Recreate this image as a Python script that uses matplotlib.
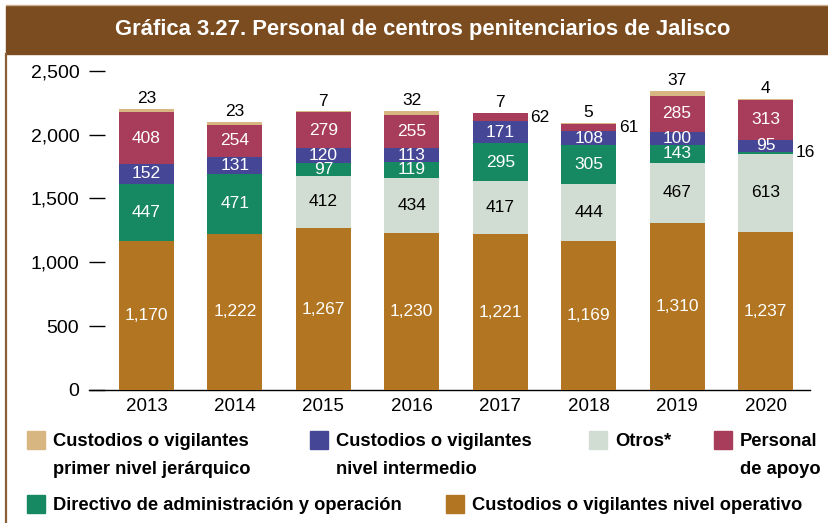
import matplotlib
matplotlib.use('Agg')
import matplotlib.pyplot as plt
import numpy as np
from matplotlib.patches import Rectangle

years = ['2013', '2014', '2015', '2016', '2017', '2018', '2019', '2020']
operativo = [1170, 1222, 1267, 1230, 1221, 1169, 1310, 1237]
otros = [0, 0, 412, 434, 417, 444, 467, 613]
directivo = [447, 471, 97, 119, 295, 305, 143, 16]
intermedio = [152, 131, 120, 113, 171, 108, 100, 95]
apoyo = [408, 254, 279, 255, 62, 61, 285, 313]
primer = [23, 23, 7, 32, 7, 5, 37, 4]

c_oper = '#B27521'
c_otros = '#D1DCD2'
c_dir = '#168862'
c_int = '#464697'
c_apo = '#A83C5B'
c_pri = '#D8B681'
c_brown = '#7B4C1F'

plt.rcParams['font.family'] = ['Liberation Sans', 'DejaVu Sans']

W, H = 829, 523
fig = plt.figure(figsize=(W / 100, H / 100), dpi=100)


def fx(px):
    return px / W


def fy(py):
    return 1 - py / H


# title bar
fig.patches.append(Rectangle((fx(6), fy(54)), fx(829) - fx(6), fy(6) - fy(54),
                             transform=fig.transFigure, color=c_brown, zorder=0))
fig.lines.append(plt.Line2D([fx(6), fx(829)], [fy(5), fy(5)], transform=fig.transFigure,
                            color='#CDB08E', lw=1))
fig.lines.append(plt.Line2D([fx(6.5), fx(6.5)], [fy(54), fy(523)], transform=fig.transFigure,
                            color='#8A5F33', lw=1.6))
fig.text(fx(423), fy(30), 'Gráfica 3.27. Personal de centros penitenciarios de Jalisco',
         color='white', fontsize=15.8, fontweight='bold', ha='center', va='center')

ax = fig.add_axes([fx(89), fy(390), fx(810) - fx(89), fy(58) - fy(390)])
x = np.arange(len(years))
width = 0.622
lab_fs = 12.5

series = [
    (operativo, c_oper, 'white'),
    (otros, c_otros, 'black'),
    (directivo, c_dir, 'white'),
    (intermedio, c_int, 'white'),
    (apoyo, c_apo, 'white'),
    (primer, c_pri, 'black'),
]

bottom = np.zeros(len(years))
for vals, col, tcol in series:
    vals = np.array(vals, dtype=float)
    ax.bar(x, vals, width, bottom=bottom, color=col, linewidth=0, zorder=2)
    for i, v in enumerate(vals):
        if v == 0:
            continue
        label = f'{int(v):,}'
        if col == c_pri:
            # primer nivel: value above the bar
            ax.annotate(label, (x[i], bottom[i] + v), xytext=(0, 2), textcoords='offset points',
                        ha='center', va='bottom', fontsize=lab_fs, color='black')
        elif v < 80:
            # thin segments: value to the right of the bar
            ax.annotate(label, (x[i] + width / 2, bottom[i] + v / 2), xytext=(2, 0),
                        textcoords='offset points', ha='left', va='center',
                        fontsize=lab_fs, color='black')
        else:
            ax.text(x[i], bottom[i] + v / 2, label, ha='center', va='center',
                    fontsize=lab_fs, color=tcol, zorder=3)
    bottom += vals

ax.set_xlim(-0.650, 7.503)
ax.set_ylim(0, 2600)
ax.set_yticks([0, 500, 1000, 1500, 2000, 2500])
ax.set_yticklabels(['0', '500', '1,000', '1,500', '2,000', '2,500'])
ax.set_xticks(x)
ax.set_xticklabels(years)
for s in ['top', 'right', 'left']:
    ax.spines[s].set_visible(False)
ax.spines['bottom'].set_color('black')
ax.spines['bottom'].set_linewidth(1)
ax.spines['bottom'].set_zorder(1)
ax.tick_params(axis='y', direction='in', length=11.5, width=1, pad=7, labelsize=14)
ax.tick_params(axis='x', length=0, pad=6, labelsize=13.5)

# legend
legend_items = [
    (27, 431, c_pri, ['Custodios o vigilantes', 'primer nivel jerárquico']),
    (310, 431, c_int, ['Custodios o vigilantes', 'nivel intermedio']),
    (589, 431, c_otros, ['Otros*']),
    (714, 431, c_apo, ['Personal', 'de apoyo']),
    (27, 495, c_dir, ['Directivo de administración y operación']),
    (446, 495, c_oper, ['Custodios o vigilantes nivel operativo']),
]
for px, py, col, lines in legend_items:
    fig.patches.append(Rectangle((fx(px), fy(py + 18)), fx(18), 18 / H,
                                 transform=fig.transFigure, color=col))
    for k, line in enumerate(lines):
        fig.text(fx(px + 26), fy(py + 11 + 27 * k), line, fontsize=13.2, fontweight='bold',
                 ha='left', va='center', color='black')

fig.savefig('out.png', dpi=100)
